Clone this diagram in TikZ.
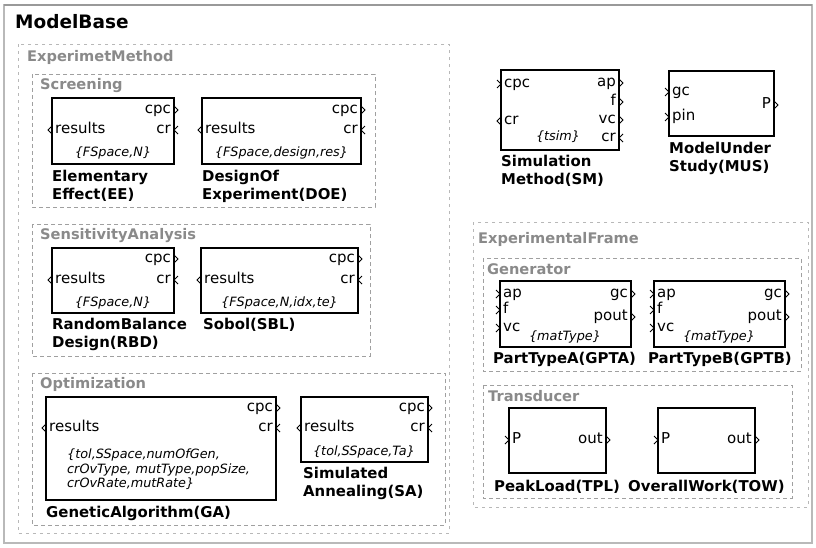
\documentclass[tikz,border=0pt]{standalone}
\usepackage{fontspec}
\setmainfont{DejaVu Sans}
\definecolor{grplbl}{HTML}{8A8A8A}
\definecolor{grpln}{HTML}{A0A0A0}
\tikzset{
  blk/.style={draw=black, line width=1.2pt},
  chv/.style={line width=1pt, black},
  grp/.style={draw=grpln, line width=1pt, dash pattern=on 4pt off 3pt},
  frm/.style={draw=grpln!75, line width=1pt, dash pattern=on 3pt off 4pt},
  prtL/.style={inner sep=0pt, anchor=west, text height=10.5pt, text depth=3pt, font=\fontsize{15}{16}\selectfont},
  prtR/.style={inner sep=0pt, anchor=east, text height=10.5pt, text depth=3pt, font=\fontsize{15}{16}\selectfont},
  par/.style={inner sep=0pt, text height=9pt, text depth=3pt, font=\fontsize{12.8}{14.5}\selectfont\itshape},
  lbl/.style={inner sep=0pt, anchor=north west, align=left, font=\fontsize{14.9}{18}\selectfont\bfseries},
  glbl/.style={inner sep=0pt, anchor=base west, text=grplbl, font=\fontsize{14.6}{18}\selectfont\bfseries},
}
\newcommand\chR[2]{\draw[chv] (#1,#2) ++(-4,-4) -- ++(4,4) -- ++(-4,4);}
\newcommand\chL[2]{\draw[chv] (#1,#2) ++(4,-4) -- ++(-4,4) -- ++(4,4);}
\begin{document}
\begin{tikzpicture}[x=1pt,y=-1pt]
\useasboundingbox (0,0) rectangle (816,547);
\fill[white] (0,0) rectangle (816,547);
% outer frame
\draw[gray!55, line width=1.5pt] (4,5) rectangle (812,543);
\draw[gray!80, line width=1.8pt] (4,5) -- (812,5);
\node[inner sep=0pt, anchor=base west, font=\fontsize{18.5}{20}\selectfont\bfseries] (mb) at (15,28) {ModelBase};

% ===== ExperimetMethod =====
\draw[frm] (18,44) rectangle (449,533);
\node[glbl] (em) at (27,61) {ExperimetMethod};

% Screening
\draw[grp] (32,74) rectangle (375,207);
\node[glbl] (scr) at (40,89) {Screening};
% EE
\draw[blk] (52,98) rectangle (174,164);
\node[prtR] (ee1) at (171,110) {cpc}; \chR{178}{110}
\node[prtL] (ee2) at (55,130) {results}; \chL{48}{130}
\node[prtR] (ee3) at (171,130) {cr}; \chL{174}{130}
\node[par] (ee4) at (113,153) {\{FSpace,N\}};
\node[lbl] (ee5) at (52,170) {Elementary\\Effect(EE)};
% DOE
\draw[blk] (202,98) rectangle (361,164);
\node[prtR] (do1) at (358,110) {cpc}; \chR{365}{110}
\node[prtL] (do2) at (205,130) {results}; \chL{198}{130}
\node[prtR] (do3) at (358,130) {cr}; \chL{361}{130}
\node[par] (do4) at (281.5,153) {\{FSpace,design,res\}};
\node[lbl] (do5) at (202,170) {DesignOf\\Experiment(DOE)};

% SensitivityAnalysis
\draw[grp] (32,224) rectangle (370,356);
\node[glbl] (sa) at (40,239) {SensitivityAnalysis};
% RBD
\draw[blk] (52,248) rectangle (174,313);
\node[prtR] (rb1) at (171,259) {cpc}; \chR{178}{259}
\node[prtL] (rb2) at (55,280) {results}; \chL{48}{280}
\node[prtR] (rb3) at (171,280) {cr}; \chL{174}{280}
\node[par] (rb4) at (113,303) {\{FSpace,N\}};
\node[lbl] (rb5) at (52,318) {RandomBalance\\Design(RBD)};
% SBL
\draw[blk] (201,248) rectangle (358,313);
\node[prtR] (sb1) at (355,259) {cpc}; \chR{362}{259}
\node[prtL] (sb2) at (204,280) {results}; \chL{197}{280}
\node[prtR] (sb3) at (355,280) {cr}; \chL{358}{280}
\node[par] (sb4) at (279.5,303) {\{FSpace,N,idx,te\}};
\node[lbl] (sb5) at (203,318) {Sobol(SBL)};

% Optimization
\draw[grp] (32,373) rectangle (445,525);
\node[glbl] (opt) at (40,388) {Optimization};
% GA
\draw[blk] (46,397) rectangle (276,500);
\node[prtR] (ga1) at (273,408) {cpc}; \chR{280}{408}
\node[prtL] (ga2) at (49,428) {results}; \chL{42}{428}
\node[prtR] (ga3) at (273,428) {cr}; \chL{276}{428}
\node[par, anchor=north west, align=left, text height=, text depth=] (ga4) at (67,449) {\{tol,SSpace,numOfGen,\\crOvType, mutType,popSize,\\crOvRate,mutRate\}};
\node[lbl] (ga5) at (46,506) {GeneticAlgorithm(GA)};
% SA
\draw[blk] (301,397) rectangle (428,462);
\node[prtR] (an1) at (425,408) {cpc}; \chR{432}{408}
\node[prtL] (an2) at (304,428) {results}; \chL{297}{428}
\node[prtR] (an3) at (425,428) {cr}; \chL{428}{428}
\node[par] (an4) at (364,452) {\{tol,SSpace,Ta\}};
\node[lbl] (an5) at (303,467) {Simulated\\Annealing(SA)};

% ===== Simulation Method =====
\draw[blk] (501,70) rectangle (619,150);
\node[prtL] (sm1) at (504,84) {cpc}; \chR{501}{84}
\node[prtL] (sm2) at (504,121) {cr}; \chL{497}{121}
\node[prtR] (sm3) at (616,83) {ap}; \chR{623}{83}
\node[prtR] (sm4) at (616,102) {f}; \chR{623}{102}
\node[prtR] (sm5) at (616,120) {vc}; \chR{623}{120}
\node[prtR] (sm6) at (616,138) {cr}; \chL{619}{138}
\node[par] (sm7) at (558,137) {\{tsim\}};
\node[lbl] (sm8) at (501,155) {Simulation\\Method(SM)};

% ===== Model Under Study =====
\draw[blk] (669,71) rectangle (774,136);
\node[prtL] (mu1) at (672,92) {gc}; \chR{669}{92}
\node[prtL] (mu2) at (672,117) {pin}; \chR{669}{117}
\node[prtR] (mu3) at (771,105) {P}; \chR{778}{105}
\node[lbl] (mu4) at (669,142) {ModelUnder\\Study(MUS)};

% ===== ExperimentalFrame =====
\draw[frm] (473,222) rectangle (808,507);
\node[glbl] (ef) at (478,243) {ExperimentalFrame};

% Generator
\draw[grp] (483,258) rectangle (801,371);
\node[glbl] (gen) at (487,274) {Generator};
% GPTA
\draw[blk] (500,281) rectangle (631,347);
\node[prtL] (pa1) at (503,294) {ap}; \chR{500}{294}
\node[prtL] (pa2) at (503,310) {f}; \chR{500}{310}
\node[prtL] (pa3) at (503,328) {vc}; \chR{500}{328}
\node[prtR] (pa4) at (628,294) {gc}; \chR{635}{294}
\node[prtR] (pa5) at (628,317) {pout}; \chR{635}{317}
\node[par] (pa6) at (565,337) {\{matType\}};
\node[lbl] (pa7) at (493,352) {PartTypeA(GPTA)};
% GPTB
\draw[blk] (654,281) rectangle (785,347);
\node[prtL] (pb1) at (657,294) {ap}; \chR{654}{294}
\node[prtL] (pb2) at (657,310) {f}; \chR{654}{310}
\node[prtL] (pb3) at (657,328) {vc}; \chR{654}{328}
\node[prtR] (pb4) at (782,294) {gc}; \chR{789}{294}
\node[prtR] (pb5) at (782,317) {pout}; \chR{789}{317}
\node[par] (pb6) at (719,337) {\{matType\}};
\node[lbl] (pb7) at (648,352) {PartTypeB(GPTB)};

% Transducer
\draw[grp] (483,385) rectangle (792,498);
\node[glbl] (tr) at (488,401) {Transducer};
% TPL
\draw[blk] (509,408) rectangle (606,473);
\node[prtL] (tp1) at (512,440) {P}; \chR{509}{440}
\node[prtR] (tp2) at (603,440) {out}; \chR{610}{440}
\node[lbl] (tp3) at (494,480) {PeakLoad(TPL)};
% TOW
\draw[blk] (658,408) rectangle (755,473);
\node[prtL] (to1) at (661,440) {P}; \chR{658}{440}
\node[prtR] (to2) at (752,440) {out}; \chR{759}{440}
\node[lbl] (to3) at (628,480) {OverallWork(TOW)};
\end{tikzpicture}
\end{document}
